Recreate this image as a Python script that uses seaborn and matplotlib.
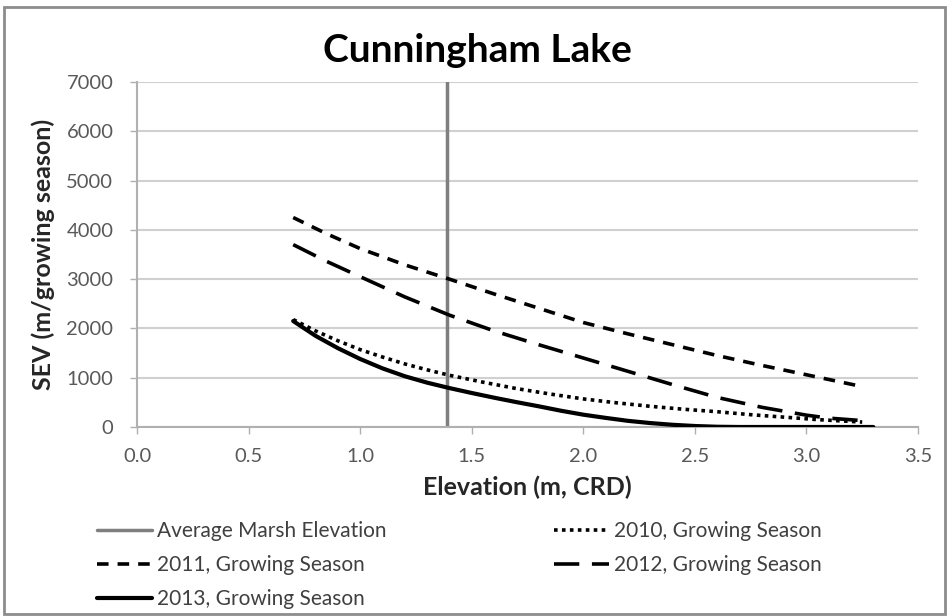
import matplotlib
matplotlib.use("Agg")
import matplotlib.pyplot as plt
import seaborn as sns
import pandas as pd
from matplotlib.patches import Rectangle

# ---- data ----
elev_2010 = [0.7, 0.8, 0.9, 1.0, 1.1, 1.2, 1.3, 1.4, 1.55, 1.7, 1.85, 2.0,
             2.15, 2.3, 2.45, 2.6, 2.75, 2.9, 3.05, 3.25]
sev_2010 = [2180, 1950, 1750, 1570, 1420, 1280, 1160, 1050, 910, 780, 670, 570,
            490, 420, 360, 310, 250, 200, 150, 100]

elev_2011 = [0.7, 0.85, 1.0, 1.2, 1.4, 1.6, 1.8, 2.0, 2.2, 2.4, 2.6, 2.8, 3.0, 3.25]
sev_2011 = [4250, 3920, 3620, 3290, 3000, 2700, 2410, 2120, 1890, 1670, 1450,
            1250, 1060, 820]

elev_2012 = [0.7, 0.85, 1.0, 1.2, 1.4, 1.6, 1.8, 2.0, 2.2, 2.4, 2.6, 2.8, 3.0,
             3.1, 3.25]
sev_2012 = [3700, 3360, 3050, 2640, 2270, 1950, 1670, 1400, 1130, 860, 600, 400,
            240, 180, 130]

elev_2013 = [0.7, 0.8, 0.9, 1.0, 1.1, 1.2, 1.3, 1.4, 1.5, 1.6, 1.7, 1.8, 1.9,
             2.0, 2.1, 2.2, 2.3, 2.4, 2.5, 2.6, 2.7, 3.0, 3.3]
sev_2013 = [2150, 1850, 1600, 1380, 1190, 1030, 900, 790, 690, 595, 505, 420,
            330, 250, 185, 125, 80, 45, 20, 5, 0, 0, 0]

marsh_elevation = 1.39
y_range = [0, 7000]

series_names = ["2010, Growing Season", "2011, Growing Season",
                "2012, Growing Season", "2013, Growing Season"]
marsh_label = "Average Marsh Elevation"
x_ticks = [0.0, 0.5, 1.0, 1.5, 2.0, 2.5, 3.0, 3.5]
y_ticks = [0, 1000, 2000, 3000, 4000, 5000, 6000, 7000]

sns.set_theme(style="white")
plt.rcParams['font.family'] = ['Lato', 'DejaVu Sans']

fig = plt.figure(figsize=(9.51, 6.16), dpi=100)
ax = fig.add_axes([137/951, 1-427/616, (918-137)/951, (427-82)/616])

# border around figure
fig.patches.append(Rectangle((0.004, 0.004), 0.99, 0.985, transform=fig.transFigure,
                             fill=False, edgecolor="#8c8c8c", linewidth=2.0))

ax.axvline(marsh_elevation, color="#7f7f7f", linewidth=2.5,
           label=marsh_label, zorder=2)

styles = {
    series_names[0]: dict(linestyle=(0, (1, 1.2)), linewidth=2.6),
    series_names[1]: dict(linestyle=(0, (3.2, 2.5)), linewidth=2.6),
    series_names[2]: dict(linestyle=(0, (7, 3.5)), linewidth=2.6),
    series_names[3]: dict(linestyle="-", linewidth=3.0),
}
data = [(elev_2010, sev_2010), (elev_2011, sev_2011),
        (elev_2012, sev_2012), (elev_2013, sev_2013)]
for name, (xs, ys) in zip(series_names, data):
    df = pd.DataFrame({"x": xs, "y": ys})
    sns.lineplot(data=df, x="x", y="y", ax=ax, color="black", label=name,
                 zorder=3, **styles[name])

ax.set_xlim(0, 3.5)
ax.set_ylim(y_range)
ax.set_xticks(x_ticks)
ax.set_xticklabels([f"{v:.1f}" for v in x_ticks])
ax.set_yticks(y_ticks)
ax.set_yticklabels([str(v) for v in y_ticks])
ax.yaxis.grid(True, color="#d0d0d0", linewidth=1.5)
ax.xaxis.grid(False)
for s in ["top", "right"]:
    ax.spines[s].set_visible(False)
for s in ["left", "bottom"]:
    ax.spines[s].set_color("#b0b0b0")
    ax.spines[s].set_linewidth(1.5)
ax.tick_params(axis="both", which="both", direction="out", length=5, width=1,
               color="#b0b0b0", labelsize=14.5, labelcolor="#595959",
               bottom=True, left=True)
ax.tick_params(axis="y", pad=12)
ax.tick_params(axis="x", pad=10)

fig.text(0.502, 1-50/616, "Cunningham Lake", fontsize=28, fontweight="bold",
         ha="center", va="center", color="black")
ax.set_xlabel("Elevation (m, CRD)", fontsize=18, fontweight="bold", labelpad=8)
ax.set_ylabel("SEV (m/growing season)", fontsize=18, fontweight="bold", labelpad=8)

handles, labels = ax.get_legend_handles_labels()
hd = dict(zip(labels, handles))
order = [marsh_label, series_names[1], series_names[3],
         series_names[0], series_names[2]]
if ax.get_legend():
    ax.get_legend().remove()
leg = fig.legend([hd[k] for k in order], order, loc="upper left",
                 bbox_to_anchor=(97/951, 1-521/616), ncol=2, frameon=False,
                 fontsize=15, handlelength=2.65, handletextpad=0.25,
                 columnspacing=8.0, labelspacing=0.68, borderpad=0,
                 borderaxespad=0)
for t in leg.get_texts():
    t.set_color("#404040")

fig.savefig("out.png", dpi=100)
